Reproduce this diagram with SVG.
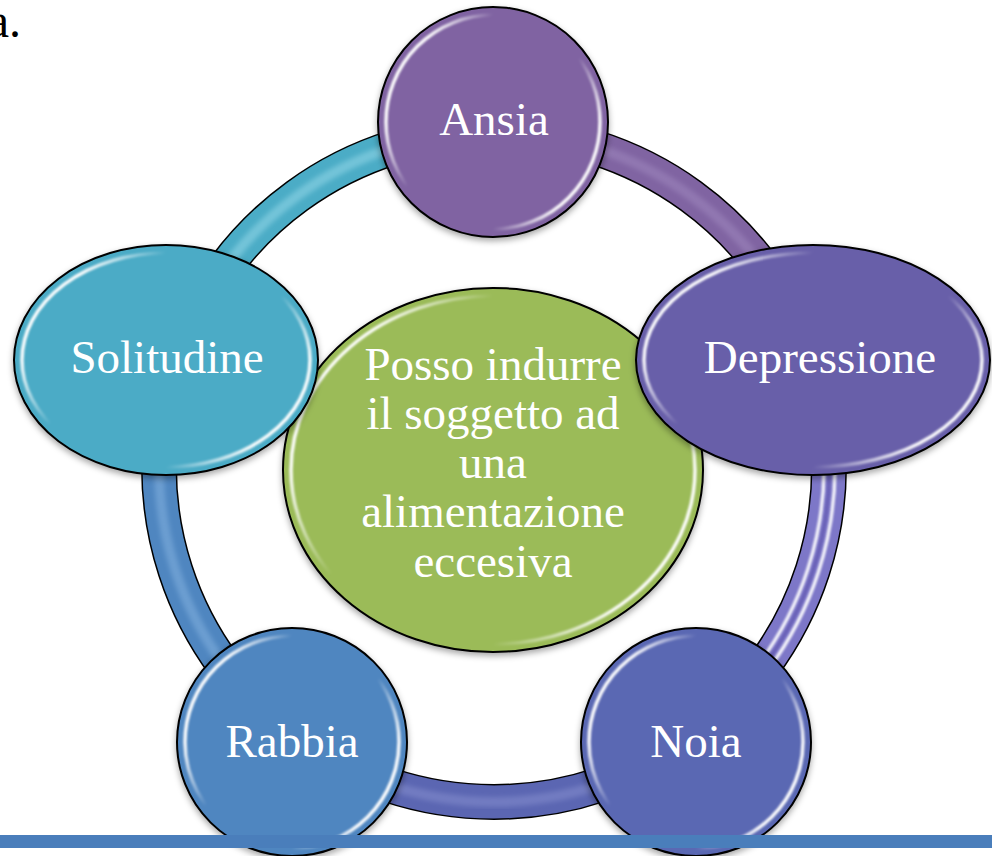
<svg xmlns="http://www.w3.org/2000/svg" width="992" height="856" viewBox="0 0 992 856">
<defs>
<style>
.lbl{font-family:"Liberation Serif","Times New Roman",serif;font-size:47px;fill:#ffffff;text-anchor:middle}
.node{stroke:#000000;stroke-width:2}
.gloss{fill:none;stroke:url(#gl);stroke-width:3.5;filter:url(#soft)}
.tube-out{fill:none;stroke:#000000;stroke-width:36}
.tube{fill:none;stroke-width:33}
.tube-hi{fill:none;stroke-width:10;opacity:0.45;filter:url(#soft2)}
</style>
<linearGradient id="gl" x1="0" y1="0.25" x2="1" y2="0.75">
<stop offset="0" stop-color="#ffffff" stop-opacity="1"/>
<stop offset="0.1" stop-color="#ffffff" stop-opacity="0.95"/>
<stop offset="0.3" stop-color="#ffffff" stop-opacity="0"/>
<stop offset="0.7" stop-color="#ffffff" stop-opacity="0"/>
<stop offset="0.9" stop-color="#ffffff" stop-opacity="0.95"/>
<stop offset="1" stop-color="#ffffff" stop-opacity="1"/>
</linearGradient>
<filter id="sh" x="-20%" y="-20%" width="140%" height="140%">
<feDropShadow dx="0" dy="3" stdDeviation="3" flood-color="#000000" flood-opacity="0.35"/>
</filter>
<filter id="soft" x="-10%" y="-10%" width="120%" height="120%">
<feGaussianBlur stdDeviation="1.2"/>
</filter>
<filter id="soft2" x="-10%" y="-10%" width="120%" height="120%">
<feGaussianBlur stdDeviation="2.5"/>
</filter>
</defs>
<rect x="0" y="0" width="992" height="856" fill="#ffffff"/>
<text x="21" y="37" font-family="'Liberation Serif','Times New Roman',serif" font-size="48" fill="#000000" text-anchor="end">a.</text>

<g id="connectors">
<g id="edge-ansia-depressione">
<path class="tube-out" d="M494,132 A335,335 0 0 1 812.6,363.5"/>
<path class="tube" stroke="#8064a2" d="M494,132 A335,335 0 0 1 812.6,363.5"/>
<path class="tube-hi" stroke="#a58fc4" d="M494,132 A335,335 0 0 1 812.6,363.5"/>
</g>
<g id="edge-depressione-noia">
<path class="tube-out" d="M812.6,363.5 A335,335 0 0 1 690.9,738"/>
<path class="tube" stroke="#7d77c8" d="M812.6,363.5 A335,335 0 0 1 690.9,738"/>
<path fill="none" stroke="#ffffff" stroke-width="3.5" opacity="0.9" filter="url(#soft)" d="M818.3,361.6 A341,341 0 0 1 694.4,742.9"/>
<path fill="none" stroke="#ffffff" stroke-width="3.5" opacity="0.9" filter="url(#soft)" d="M807.9,365 A330,330 0 0 1 688,733.9"/>
<path fill="none" stroke="#5e55ad" stroke-width="3" opacity="0.7" filter="url(#soft)" d="M813.1,363.3 A335.5,335.5 0 0 1 691.2,738.4"/>
</g>
<g id="edge-noia-rabbia">
<path class="tube-out" d="M690.9,738 A335,335 0 0 1 297.1,738"/>
<path class="tube" stroke="#5b66b2" d="M690.9,738 A335,335 0 0 1 297.1,738"/>
<path class="tube-hi" stroke="#8f97d4" d="M690.9,738 A335,335 0 0 1 297.1,738"/>
</g>
<g id="edge-rabbia-solitudine">
<path class="tube-out" d="M297.1,738 A335,335 0 0 1 175.4,363.5"/>
<path class="tube" stroke="#4f86c0" d="M297.1,738 A335,335 0 0 1 175.4,363.5"/>
<path class="tube-hi" stroke="#8fbbe6" d="M297.1,738 A335,335 0 0 1 175.4,363.5"/>
</g>
<g id="edge-solitudine-ansia">
<path class="tube-out" d="M175.4,363.5 A335,335 0 0 1 494,132"/>
<path class="tube" stroke="#4bacc6" d="M175.4,363.5 A335,335 0 0 1 494,132"/>
<path class="tube-hi" stroke="#a6e2f0" d="M175.4,363.5 A335,335 0 0 1 494,132"/>
</g>
</g>

<g id="node-center">
<ellipse class="node" cx="493" cy="470" rx="210" ry="182" fill="#9bbb59" filter="url(#sh)"/>
<ellipse class="gloss" cx="493" cy="470" rx="202" ry="174"/>
<text class="lbl" x="493" y="380">Posso indurre</text>
<text class="lbl" x="493" y="429">il soggetto ad</text>
<text class="lbl" x="493" y="478">una</text>
<text class="lbl" x="493" y="527">alimentazione</text>
<text class="lbl" x="493" y="577">eccesiva</text>
</g>

<g id="node-ansia">
<circle class="node" cx="493" cy="122" r="115" fill="#8064a2" filter="url(#sh)"/>
<circle class="gloss" cx="493" cy="122" r="107"/>
<text class="lbl" x="494" y="135">Ansia</text>
</g>

<g id="node-depressione">
<ellipse class="node" cx="813" cy="360" rx="177" ry="115" fill="#675ea9" filter="url(#sh)"/>
<ellipse class="gloss" cx="813" cy="360" rx="169" ry="107"/>
<text class="lbl" x="820" y="373">Depressione</text>
</g>

<g id="node-noia">
<ellipse class="node" cx="696" cy="742" rx="115" ry="114" fill="#5a67b3" filter="url(#sh)"/>
<ellipse class="gloss" cx="696" cy="742" rx="107" ry="106"/>
<text class="lbl" x="696" y="757">Noia</text>
</g>

<g id="node-rabbia">
<ellipse class="node" cx="292" cy="742" rx="115" ry="114" fill="#4f86c0" filter="url(#sh)"/>
<ellipse class="gloss" cx="292" cy="742" rx="107" ry="106"/>
<text class="lbl" x="292" y="757">Rabbia</text>
</g>

<g id="node-solitudine">
<ellipse class="node" cx="166" cy="360" rx="152" ry="115" fill="#4babc6" filter="url(#sh)"/>
<ellipse class="gloss" cx="166" cy="360" rx="144" ry="107"/>
<text class="lbl" x="167" y="373">Solitudine</text>
</g>

<rect x="0" y="835" width="992" height="13" fill="#4a7ebb"/>
</svg>
